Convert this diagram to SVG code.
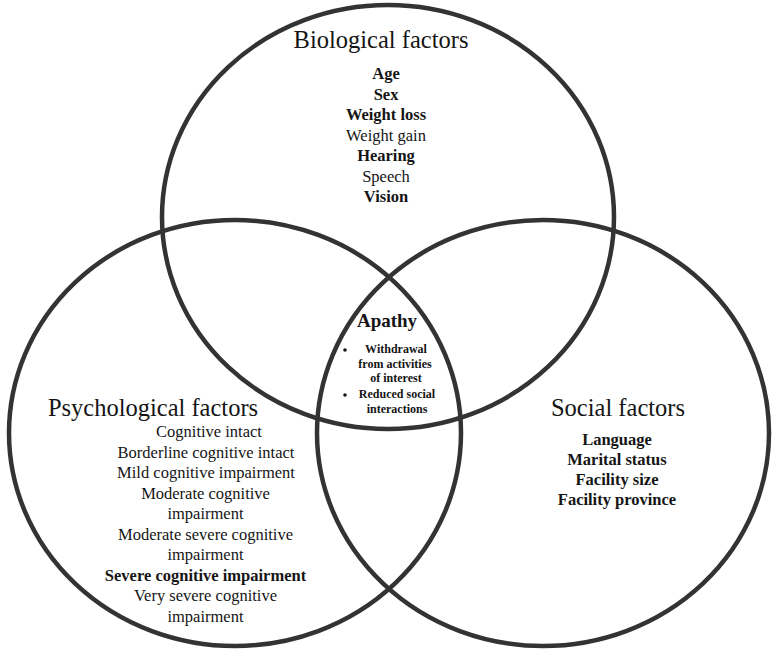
<svg xmlns="http://www.w3.org/2000/svg" width="775" height="653" viewBox="0 0 775 653">
<style>
text{font-family:"Liberation Serif","Times New Roman",serif;fill:#151515;text-anchor:middle}
.title{font-size:24.5px}
.item{font-size:16.5px}
.b{font-weight:bold}
.ap{font-size:19px;font-weight:bold}
.sm{font-size:12px;font-weight:bold}
.ring{fill:none;stroke:#333;stroke-width:4.5}
</style>
<rect width="775" height="653" fill="#fff"/>
<g id="connectors"></g>
<g id="biological">
<ellipse class="ring" cx="388" cy="217" rx="226" ry="212"/>
<text class="title" x="381" y="48">Biological factors</text>
<text class="item b" x="386" y="79">Age</text>
<text class="item b" x="386" y="99.5">Sex</text>
<text class="item b" x="386" y="120">Weight loss</text>
<text class="item" x="386" y="140.5">Weight gain</text>
<text class="item b" x="386" y="161">Hearing</text>
<text class="item" x="386" y="181.5">Speech</text>
<text class="item b" x="386" y="202">Vision</text>
</g>
<g id="psychological">
<ellipse class="ring" cx="235" cy="433" rx="226" ry="213"/>
<text class="title" x="153" y="416">Psychological factors</text>
<text class="item" x="209" y="437">Cognitive intact</text>
<text class="item" x="206" y="457.5">Borderline cognitive intact</text>
<text class="item" x="206" y="478">Mild cognitive impairment</text>
<text class="item" x="205.5" y="498.5">Moderate cognitive</text>
<text class="item" x="205.5" y="519">impairment</text>
<text class="item" x="205.5" y="539.5">Moderate severe cognitive</text>
<text class="item" x="205.5" y="560">impairment</text>
<text class="item b" x="205.5" y="580.5">Severe cognitive impairment</text>
<text class="item" x="205.5" y="601">Very severe cognitive</text>
<text class="item" x="205.5" y="621.5">impairment</text>
</g>
<g id="social">
<ellipse class="ring" cx="543" cy="433" rx="226" ry="213"/>
<text class="title" x="618" y="416">Social factors</text>
<text class="item b" x="617" y="445">Language</text>
<text class="item b" x="617" y="465">Marital status</text>
<text class="item b" x="617" y="485">Facility size</text>
<text class="item b" x="617" y="505">Facility province</text>
</g>
<g id="apathy">
<text class="ap" x="387" y="327">Apathy</text>
<circle cx="345" cy="350" r="1.8" fill="#151515"/>
<text class="sm" x="396" y="353">Withdrawal</text>
<text class="sm" x="395" y="368">from activities</text>
<text class="sm" x="396" y="382">of interest</text>
<circle cx="345" cy="395" r="1.8" fill="#151515"/>
<text class="sm" x="397" y="398">Reduced social</text>
<text class="sm" x="397" y="413">interactions</text>
</g>
</svg>
